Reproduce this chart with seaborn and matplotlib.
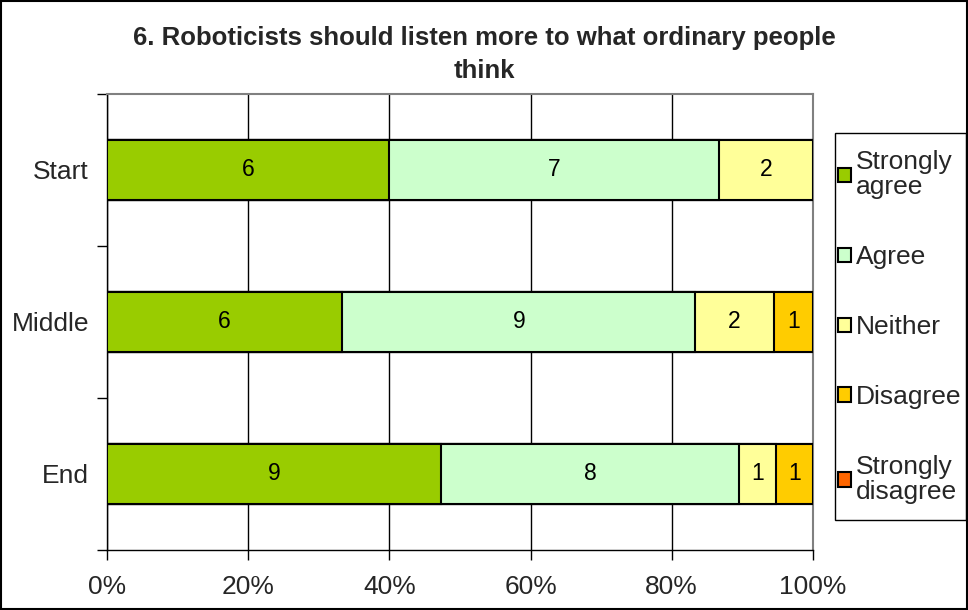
import numpy as np
import pandas as pd
import matplotlib
matplotlib.use("Agg")
import matplotlib.pyplot as plt
import seaborn as sns
from matplotlib.patches import Patch, Rectangle

# Survey responses (counts) at three stages
stages = ["Start", "Middle", "End"]
responses = ["Strongly agree", "Agree", "Neither", "Disagree", "Strongly disagree"]
strongly_agree = [6, 6, 9]
agree = [7, 9, 8]
neither = [2, 2, 1]
disagree = [0, 1, 1]
strongly_disagree = [0, 0, 0]
colors = ["#99CC00", "#CCFFCC", "#FFFF99", "#FFCC00", "#FF6600"]
xtick_labels = ["0%", "20%", "40%", "60%", "80%", "100%"]
legend_labels = ["Strongly\nagree", "Agree", "Neither", "Disagree", "Strongly\ndisagree"]

sns.set_theme(style="white")
plt.rcParams["font.family"] = ["Liberation Sans", "DejaVu Sans"]

counts = np.array([strongly_agree, agree, neither, disagree, strongly_disagree], dtype=float)
totals = counts.sum(axis=0)
pct = counts / totals * 100
cum = np.cumsum(pct, axis=0)
starts = cum - pct

fig = plt.figure(figsize=(9.68, 6.10), dpi=100)
ax = fig.add_axes([0.1105, 0.0984, 0.7293, 0.7476])

# Stacked bars: draw cumulative totals from the outermost layer inward
for i in range(len(responses) - 1, -1, -1):
    df = pd.DataFrame({"stage": stages, "value": cum[i]})
    sns.barplot(data=df, x="value", y="stage", orient="h", color=colors[i],
                saturation=1, width=0.4, edgecolor="black", linewidth=1.5,
                ax=ax, zorder=3)

# Count labels centred in each segment
for i in range(len(responses)):
    for j in range(len(stages)):
        if counts[i, j] > 0:
            ax.text(starts[i, j] + pct[i, j] / 2, j, f"{int(counts[i, j])}",
                    ha="center", va="center", fontsize=16.5, color="black", zorder=5)

ax.set_xlim(0, 100)
ax.set_ylim(2.5, -0.5)
ax.set_xticks([0, 20, 40, 60, 80, 100])
ax.set_xticklabels(xtick_labels, fontsize=19)
ax.set_yticks(range(len(stages)))
ax.set_yticklabels(stages, fontsize=19)
ax.set_yticks([-0.5, 0.5, 1.5, 2.5], minor=True)
ax.tick_params(axis="y", which="major", left=True, length=0, pad=13)
ax.tick_params(axis="y", which="minor", left=True, length=7, width=1, color="black", direction="out")
ax.tick_params(axis="x", which="major", bottom=True, length=7, width=1, color="black",
               direction="out", pad=11)
ax.set_xlabel("")
ax.set_ylabel("")

ax.xaxis.grid(True, color="black", linewidth=1)
ax.yaxis.grid(False)
ax.set_axisbelow(True)
for s in ["top", "right"]:
    ax.spines[s].set_color("#808080")
    ax.spines[s].set_linewidth(1.5)
for s in ["left", "bottom"]:
    ax.spines[s].set_color("black")
    ax.spines[s].set_linewidth(1)
for s in ax.spines.values():
    s.set_visible(True)

fig.text(0.5, 0.911, "6. Roboticists should listen more to what ordinary people\nthink",
         ha="center", va="center", fontsize=18.5, fontweight="bold", linespacing=1.5)

# Legend entries, with a separately drawn frame box
handles = [Patch(facecolor=c, edgecolor="black", linewidth=1.5) for c in colors]
leg = fig.legend(handles, legend_labels, loc="upper left",
                 bbox_to_anchor=(831 / 968, 1 - 143 / 610),
                 fontsize=19, frameon=False,
                 handlelength=0.47, handleheight=0.47, handletextpad=0.2,
                 labelspacing=1.74, borderpad=0.28, borderaxespad=0)
for t in leg.get_texts():
    t.set_linespacing(1.05)
fig.patches.append(Rectangle((835 / 968, 1 - 520 / 610), 131 / 968, 387 / 610,
                             transform=fig.transFigure, fill=False,
                             edgecolor="black", linewidth=1))

# Outer border of the chart area
fig.patches.append(Rectangle((0.001, 0.001), 0.998, 0.997, transform=fig.transFigure,
                             fill=False, edgecolor="black", linewidth=1.5))

fig.savefig("out.png", dpi=100)
